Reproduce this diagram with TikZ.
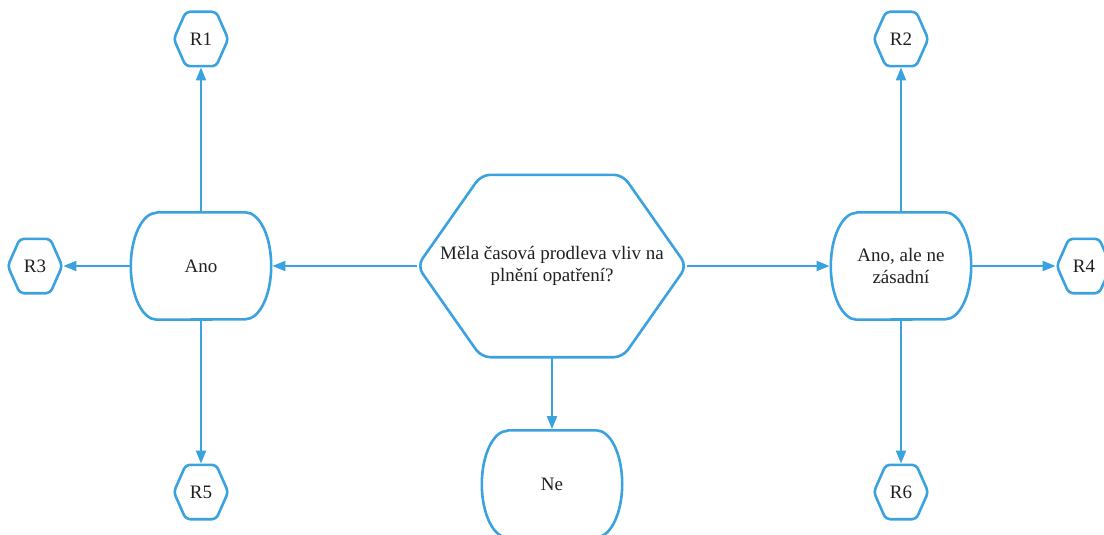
\documentclass[tikz,border=0pt]{standalone}
\usepackage{fontspec}
\setmainfont{Liberation Serif}
\usetikzlibrary{arrows.meta,calc}

\definecolor{flowblue}{RGB}{58,162,222}
\definecolor{labelgray}{RGB}{32,32,32}

\tikzset{
  box/.style={rectangle, draw=none, inner sep=0pt, text=labelgray,
    font=\fontsize{19}{22}\selectfont, align=center},
  decision/.style={box, minimum width=269pt, minimum height=182pt},
  answer/.style={box, minimum width=140pt, minimum height=107pt},
  result/.style={box, minimum width=54pt, minimum height=54pt},
  outline/.style={draw=flowblue, line width=2.6pt, line join=round},
  link/.style={draw=flowblue, line width=2pt, shorten >=1.2pt,
    -{Triangle[length=13pt,width=10pt]}},
}

% hexagon with pointed left/right ends: node name, inset of the flat edges, corner radius
\newcommand\hexoutline[3]{%
  \draw[outline, rounded corners=#3]
    ($(#1.north west)!0.5!(#1.north east)$) -- ($(#1.north east)+(-#2,0)$) -- (#1.east)
    -- ($(#1.south east)+(-#2,0)$) -- ($(#1.south west)+(#2,0)$) -- (#1.west)
    -- ($(#1.north west)+(#2,0)$) -- cycle;}

% flat top and bottom, half-elliptic sides: node name, side depth, half height
\newcommand\pilloutline[3]{%
  \draw[outline]
    ($(#1.north west)+(#2,0)$) -- ($(#1.north east)+(-#2,0)$)
    arc[start angle=-90, end angle=90, x radius=#2, y radius=#3]
    -- ($(#1.south west)+(#2,0)$)
    arc[start angle=90, end angle=270, x radius=#2, y radius=#3] -- cycle;}

\begin{document}
\begin{tikzpicture}[x=1pt, y=-1pt]
  \clip (0,0) rectangle (1104,535);

  % question and answers
  \node[decision] (q) at (552,266) {Měla časová prodleva vliv na\\plnění opatření?};
  \node[answer] (yes) at (201,266) {Ano};
  \node[answer] (minor) at (901,266) {Ano, ale ne\\zásadní};
  \node[answer] (no) at (552,484) {Ne};

  % results
  \node[result] (r1) at (201,39) {R1};
  \node[result] (r2) at (901,39) {R2};
  \node[result] (r3) at (35,266) {R3};
  \node[result] (r4) at (1084,266) {R4};
  \node[result] (r5) at (201,492) {R5};
  \node[result] (r6) at (901,492) {R6};

  % connectors
  \draw[link] (q.west) -- (yes.east);
  \draw[link] (q.east) -- (minor.west);
  \draw[link] (q.south) -- (no.north);
  \draw[link] (yes.north) -- (r1.south);
  \draw[link] (yes.west) -- (r3.east);
  \draw[link] (yes.south) -- (r5.north);
  \draw[link] (minor.north) -- (r2.south);
  \draw[link] (minor.east) -- (r4.west);
  \draw[link] (minor.south) -- (r6.north);

  % outlines
  \hexoutline{q}{64}{9}
  \pilloutline{yes}{26}{53.5}
  \pilloutline{minor}{26}{53.5}
  \pilloutline{no}{26}{53.5}
  \foreach \r in {r1,r2,r3,r4,r5,r6} {\hexoutline{\r}{12}{4}}
\end{tikzpicture}
\end{document}
